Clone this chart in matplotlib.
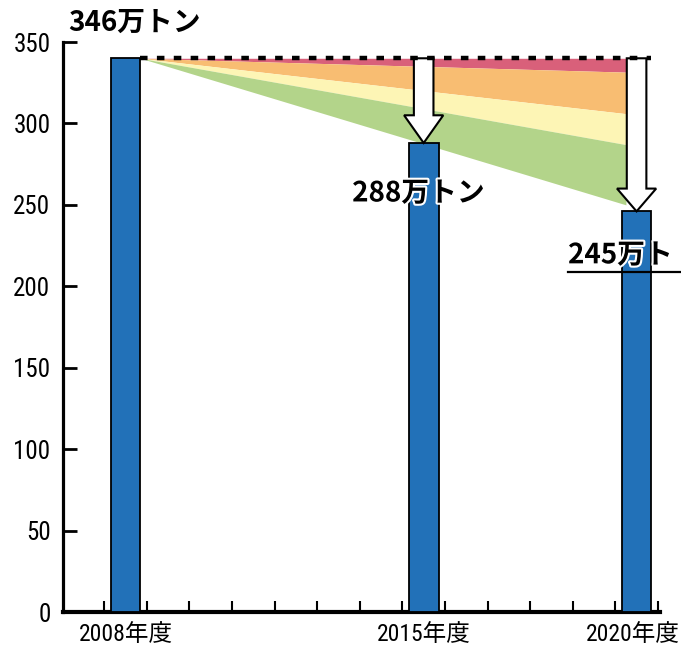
import matplotlib
matplotlib.use("Agg")
import matplotlib.pyplot as plt
import matplotlib.patheffects as pe
import matplotlib.transforms as mtransforms
from matplotlib import font_manager
from matplotlib.patches import FancyArrow
import numpy as np

# ---- data ----
years = [2008, 2015, 2020]
values = [340, 288, 246]
year_labels = ["2008年度", "2015年度", "2020年度"]
value_labels = ["346万トン", "288万トン", "245万ト"]
y_ticks = [0, 50, 100, 150, 200, 250, 300, 350]

# reduction fan (start at 2008 bar top, end near 2020)
fan_x = [2008.35, 2019.75]
fan_start = 340
fan_end = [340, 331.5, 306, 287, 250]
fan_colors = ["#d9607a", "#f8bd72", "#fdf5b5", "#b3d48a"]

# ---- fonts ----
names = {f.name for f in font_manager.fontManager.ttflist}
cjk = "Noto Sans CJK JP"
narrow = [n for n in ["Liberation Sans Narrow", "Roboto Condensed", "Open Sans Condensed"] if n in names]
fam = narrow + [cjk, "DejaVu Sans"]
plt.rcParams["font.family"] = fam

fig = plt.figure(figsize=(6.81, 6.52), dpi=100)
ax = fig.add_axes([63 / 681, 1 - 612 / 652, 597 / 681, 570 / 652])

ax.set_xlim(2006.53, 2020.55)
ax.set_ylim(0, 350)

# fan bands
for i, c in enumerate(fan_colors):
    top = [fan_start, fan_end[i]]
    bot = [fan_start, fan_end[i + 1]]
    ax.fill_between(fan_x, bot, top, color=c, lw=0, zorder=1)

# bars
ax.bar(years, values, width=0.7, color="#2271b8", edgecolor="black", linewidth=1.3, zorder=3)

# arrows from baseline down to 2015 and 2020 bar tops
for yr, v, hl in zip(years[1:], values[1:], [17, 14]):
    arr = FancyArrow(yr, values[0], 0, v - values[0], width=0.46, head_width=0.92,
                     head_length=hl, length_includes_head=True,
                     facecolor="white", edgecolor="black", linewidth=1.5, zorder=4)
    ax.add_patch(arr)

# dashed baseline
ax.plot([years[0] + 0.35, 2020.33], [values[0], values[0]], color="black", lw=3.2,
        linestyle=(0, (1.7, 2.1)), solid_capstyle="butt", dash_capstyle="butt", zorder=5)

# value annotations
stroke = [pe.withStroke(linewidth=3, foreground="white")]
kw = dict(fontsize=20, fontweight="bold", va="center", ha="left",
          family=[cjk, "DejaVu Sans"], clip_on=False, zorder=6)
ax.text(2006.65, 362, value_labels[0], **kw)
ax.text(2013.32, 257, value_labels[1], path_effects=stroke, **kw)
ax.text(2018.39, 219, value_labels[2], path_effects=stroke, **kw)
ax.plot([2018.39, 2021.1], [208.8, 208.8], color="black", lw=1.6, clip_on=False, zorder=6)

# axes styling
for s in ["top", "right"]:
    ax.spines[s].set_visible(False)
ax.spines["left"].set_linewidth(2.3)
ax.spines["bottom"].set_linewidth(3)

ax.set_yticks(y_ticks)
ax.set_yticklabels([str(t) for t in y_ticks], fontsize=18)
ax.tick_params(axis="y", direction="in", length=10, width=2, pad=9)

ax.set_xticks(years)
ax.set_xticklabels(year_labels, fontsize=17)
ax.tick_params(axis="x", which="major", length=0, pad=8)
ax.set_xticks(np.arange(2007.5, 2021, 1.0), minor=True)
ax.tick_params(axis="x", which="minor", direction="in", length=8, width=1.5)

# keep the last year label inside the figure
last = ax.get_xticklabels()[-1]
last.set_transform(last.get_transform() + mtransforms.ScaledTranslation(-4 / 100, 0, fig.dpi_scale_trans))

fig.savefig("out.png", dpi=100)
